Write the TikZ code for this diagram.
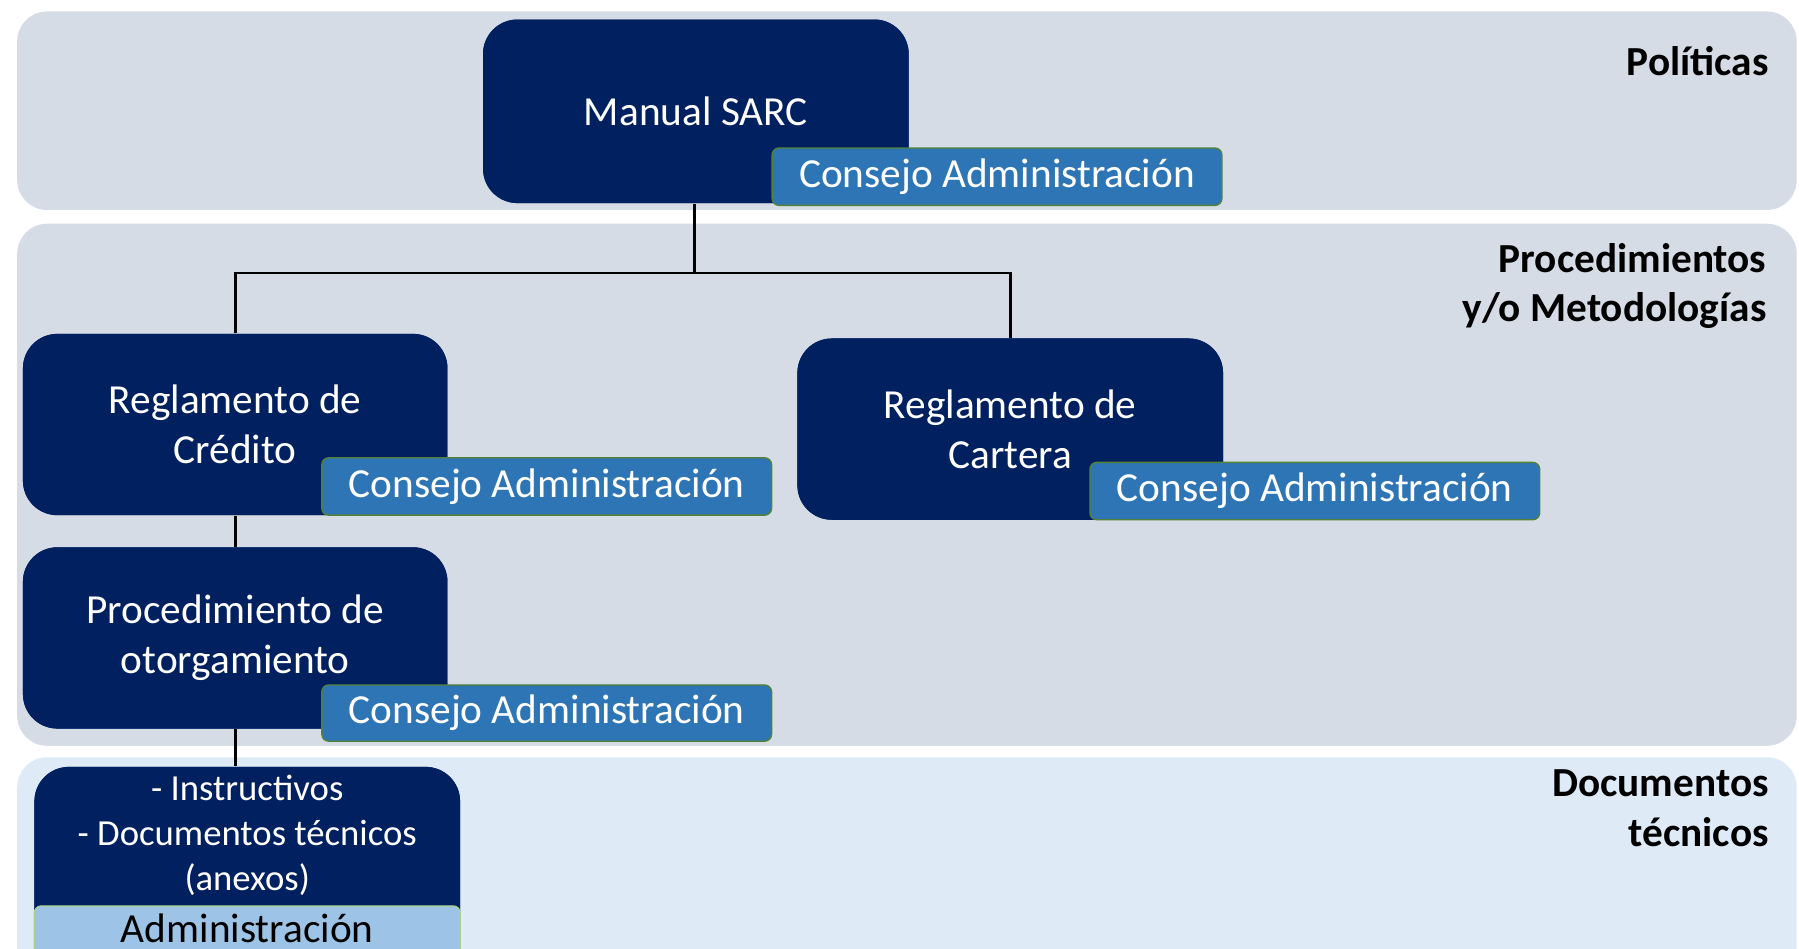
\documentclass[tikz,border=0pt]{standalone}
\usepackage{fontspec}
\setmainfont{Carlito}
\definecolor{bandgray}{HTML}{D6DCE5}
\definecolor{bandblue}{HTML}{DEEBF7}
\definecolor{navy}{HTML}{002060}
\definecolor{tagblue}{HTML}{2E75B6}
\definecolor{taglight}{HTML}{9DC3E6}
\definecolor{tagedge}{HTML}{548235}
\definecolor{tagedgelight}{HTML}{A9D18E}
\tikzset{
  band/.style={draw=none, rounded corners=13pt},
  darkbox/.style={rectangle, fill=navy, rounded corners=15pt, text=white, align=center,
    font=\fontsize{18pt}{22pt}\selectfont, inner sep=0pt},
  tag/.style={rectangle, fill=tagblue, draw=tagedge, line width=0.6pt, rounded corners=3pt,
    text=white, font=\fontsize{18pt}{22pt}\selectfont, inner sep=0pt,
    minimum width=196pt, minimum height=25pt},
  lighttag/.style={rectangle, fill=taglight, draw=tagedgelight, line width=0.6pt, rounded corners=3pt,
    text=black, font=\fontsize{18pt}{22pt}\selectfont, inner sep=0pt},
  levellabel/.style={anchor=east, align=right, font=\bfseries\fontsize{18pt}{21.5pt}\selectfont, inner sep=0pt},
  conn/.style={draw=black, line width=1.2pt},
}
\begin{document}
\begin{tikzpicture}[x=0.5pt, y=-0.5pt]
\useasboundingbox (0,0) rectangle (1568,827);
\clip (0,0) rectangle (1568,827);
\fill[white] (0,0) rectangle (1568,827);
% bands
\fill[bandgray, rounded corners=13pt] (15,10) rectangle (1566,183);
\fill[bandgray, rounded corners=13pt] (15,195) rectangle (1566,650);
\fill[bandblue, rounded corners=13pt] (15,660) rectangle (1566,870);
% level labels
\node[levellabel] (lpol) at (1542,53) {Políticas};
\node[levellabel] (lproc) at (1540,249.5) {Procedimientos\\y/o Metodologías};
\node[levellabel] (ldoc) at (1542,704.5) {Documentos\\técnicos};
% boxes
\node[darkbox, minimum width=185.5pt, minimum height=80pt] (manual) at (606.5,97) {Manual SARC};
\node[darkbox, minimum width=185pt, minimum height=79pt] (rc) at (205,370) {Reglamento de\\Crédito};
\node[darkbox, minimum width=185.5pt, minimum height=79pt] (rca) at (880.5,374) {Reglamento de\\Cartera};
\node[darkbox, minimum width=185pt, minimum height=79pt] (po) at (205,556) {Procedimiento de\\otorgamiento};
\node[darkbox, minimum width=185.5pt, minimum height=100pt, anchor=north] (docs) at (215.5,668) {};
% connectors
\coordinate (bar) at (605,238);
\draw[conn] (manual.south -| bar) -- (bar);
\draw[conn] (rc.north) |- (bar) -| (rca.north);
\draw[conn] (rc.south) -- (po.north);
\draw[conn] (po.south) -- (po.south |- docs.north);
% redraw boxes on top of connectors
\node[darkbox, minimum width=185.5pt, minimum height=80pt] at (606.5,97) {Manual SARC};
\node[darkbox, minimum width=185pt, minimum height=79pt] at (205,370) {Reglamento de\\Crédito};
\node[darkbox, minimum width=185.5pt, minimum height=79pt] at (880.5,374) {Reglamento de\\Cartera};
\node[darkbox, minimum width=185pt, minimum height=79pt] at (205,556) {Procedimiento de\\otorgamiento};
\node[darkbox, minimum width=185.5pt, minimum height=100pt, anchor=north] at (215.5,668) {};
\node[text=white, align=center, font=\fontsize{16pt}{19.5pt}\selectfont, inner sep=0pt] (docstext) at (215.5,728) {- Instructivos\\- Documentos técnicos\\(anexos)};
% tags
\node[tag] (t1) at (869,154) {Consejo Administración};
\node[tag] (t2) at (476.5,424) {Consejo Administración};
\node[tag] (t3) at (1146,428) {Consejo Administración};
\node[tag, minimum height=24.5pt] (t4) at (476.5,621.5) {Consejo Administración};
\node[lighttag, minimum width=185.5pt, minimum height=36pt, anchor=north] (t5) at (215.5,789) {};
\node[font=\fontsize{18pt}{22pt}\selectfont, inner sep=0pt] (t5text) at (215.5,809) {Administración};
\end{tikzpicture}
\end{document}
